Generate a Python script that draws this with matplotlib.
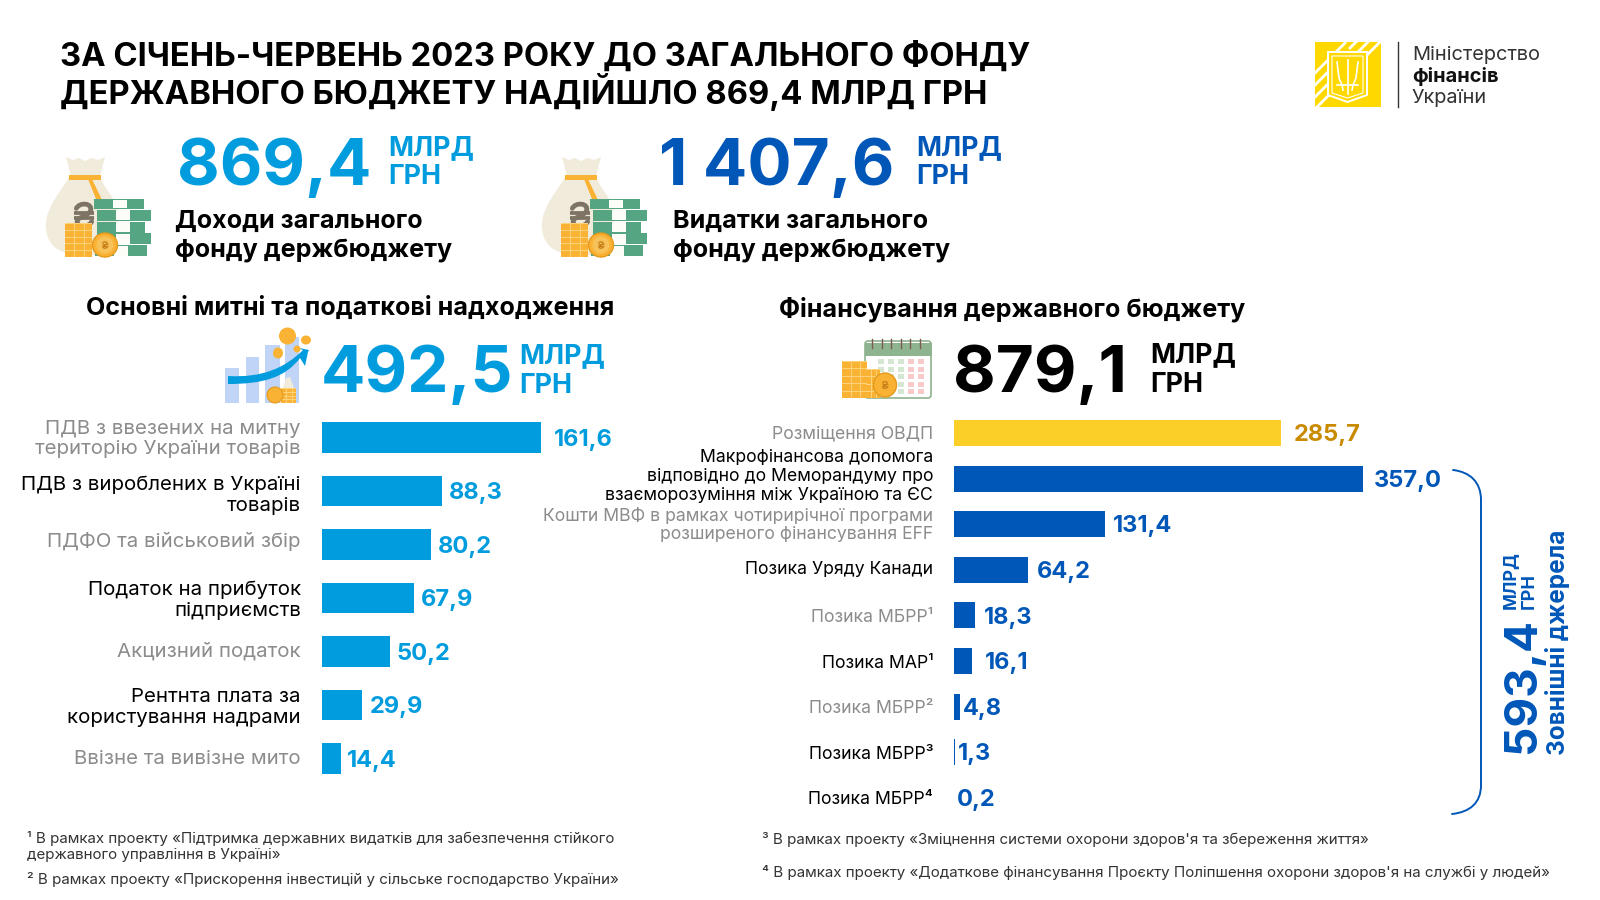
import matplotlib
matplotlib.use("Agg")
import matplotlib.pyplot as plt
from matplotlib.patches import Rectangle, Polygon, Ellipse, FancyBboxPatch, PathPatch
from matplotlib.path import Path
from matplotlib.transforms import ScaledTranslation

# ---------- data ----------
title_lines = ["ЗА СІЧЕНЬ-ЧЕРВЕНЬ 2023 РОКУ ДО ЗАГАЛЬНОГО ФОНДУ",
               "ДЕРЖАВНОГО БЮДЖЕТУ НАДІЙШЛО 869,4 МЛРД ГРН"]
tax_labels = ["ПДВ з ввезених на митну\nтериторію України товарів",
              "ПДВ з вироблених в Україні\nтоварів",
              "ПДФО та військовий збір",
              "Податок на прибуток\nпідприємств",
              "Акцизний податок",
              "Рентнта плата за\nкористування надрами",
              "Ввізне та вивізне мито"]
tax_values = [161.6, 88.3, 80.2, 67.9, 50.2, 29.9, 14.4]
fin_labels = ["Розміщення ОВДП",
              "Макрофінансова допомога\nвідповідно до Меморандуму про\nвзаєморозуміння між Україною та ЄС",
              "Кошти МВФ в рамках чотирирічної програми\nрозширеного фінансування EFF",
              "Позика Уряду Канади",
              "Позика МБРР¹", "Позика МАР¹", "Позика МБРР²", "Позика МБРР³", "Позика МБРР⁴"]
fin_values = [285.7, 357.0, 131.4, 64.2, 18.3, 16.1, 4.8, 1.3, 0.2]
income_total = "869,4"
spend_total = "1 407,6"
tax_total = "492,5"
fin_total = "879,1"
external_total = "593,4"

# ---------- style ----------
LBLUE = "#009CDE"
DBLUE = "#0057B8"
YELLOW = "#FBCE28"
AMBER = "#C98A00"
GREY = "#8C8C8C"
BLACK = "#000000"
plt.rcParams["font.family"] = ["Inter", "Noto Sans", "DejaVu Sans"]

# fine placement of labels, in pixels (positive = up / further from bar)
tax_label_nudge = [2, -1, 5, 1, 2, 1, 2]
fin_label_nudge = [1, 5, 1.5, 2, 0, -1, 0, 0, 0]
tax_value_gap = [13, 7.5, 7, 7, 7, 7.5, 5.5]
fin_value_gap = [12.5, 10.5, 8.5, 9, 9, 12, 3.4, 2.5, 2.5]

fig = plt.figure(figsize=(16, 9), dpi=100, facecolor="white")
bg = fig.add_axes([0, 0, 1, 1])
bg.set_xlim(0, 1600)
bg.set_ylim(900, 0)
bg.axis("off")


def T(x, y, s, size, color=BLACK, weight="normal", ha="left", va="baseline", rot=0):
    return bg.text(x, y, s, fontsize=size, color=color, fontweight=weight, ha=ha, va=va,
                   rotation=rot, rotation_mode="anchor")


def R(x, y, w, h, c, z=2):
    p = Rectangle((x, y), w, h, fc=c, ec="none", zorder=z)
    bg.add_patch(p)
    return p


def P(pts, c, z=2):
    p = Polygon(pts, closed=True, fc=c, ec="none", zorder=z)
    bg.add_patch(p)
    return p


def C(x, y, rx, ry, c, z=3, ec="none", lw=0):
    p = Ellipse((x, y), 2 * rx, 2 * ry, fc=c, ec=ec, lw=lw, zorder=z)
    bg.add_patch(p)
    return p


def curve(verts, codes, fc="none", ec="none", lw=0, z=2):
    p = PathPatch(Path(verts, codes), fc=fc, ec=ec, lw=lw, zorder=z, capstyle="round")
    bg.add_patch(p)
    return p


M, C4, L = Path.MOVETO, Path.CURVE4, Path.LINETO


def hryvnia(x, y, s, c, lw, z=6):
    curve([(x - .7 * s, y - .6 * s), (x - .4 * s, y - 1.2 * s), (x + .8 * s, y - 1.1 * s), (x + .6 * s, y - .4 * s),
           (x + .4 * s, y + .1 * s), (x - .4 * s, y + .1 * s), (x - .6 * s, y + .5 * s),
           (x - .8 * s, y + 1.1 * s), (x + .4 * s, y + 1.2 * s), (x + .7 * s, y + .6 * s)],
          [M, C4, C4, C4, C4, C4, C4, C4, C4, C4], ec=c, lw=lw, z=z)
    for dy in (-.2 * s, .3 * s):
        bg.plot([x - .9 * s, x + .9 * s], [y + dy, y + dy], color=c, lw=lw * .8, zorder=z, solid_capstyle="butt")


def coin_stack(x, y, w, h, rows=5):
    R(x, y, w, h, "#F9B233", 4)
    for i in range(rows):
        R(x, y + i * h / rows, w, 1, "#FDD27A", 5)
    for k in (.35, .7):
        R(x + k * w, y, 1, h, "#FDD27A", 5)


def money_icon(x0, y0):
    # sack body
    curve([(x0 + 25, y0 + 18),
           (x0 + 10, y0 + 40), (x0 - 2, y0 + 55), (x0, y0 + 72),
           (x0 + 2, y0 + 90), (x0 + 14, y0 + 96), (x0 + 30, y0 + 98),
           (x0 + 72, y0 + 98), (x0 + 72, y0 + 50),
           (x0 + 66, y0 + 38), (x0 + 56, y0 + 28), (x0 + 54, y0 + 18),
           (x0 + 25, y0 + 18)],
          [M, C4, C4, C4, C4, C4, C4, L, L, C4, C4, C4, L], fc="#F1EBDC", z=2)
    # sack neck
    P([(x0 + 20, y0), (x0 + 27, y0 + 3), (x0 + 33, y0 + 1), (x0 + 39, y0 + 4), (x0 + 46, y0 + 1), (x0 + 52, y0 + 3),
       (x0 + 59, y0), (x0 + 54, y0 + 19), (x0 + 25, y0 + 19)], "#F1EBDC", 2)
    # rope
    P([(x0 + 42, y0 + 22), (x0 + 46, y0 + 22), (x0 + 58, y0 + 47), (x0 + 52, y0 + 47)], "#F9B233", 2)
    R(x0 + 23, y0 + 18, 32, 5, "#F9B233", 3)
    hryvnia(x0 + 38, y0 + 58, 11, "#7D7465", 3.4, 3)
    # banknote stacks
    rows = [(2, 50, 10), (5, 54, 11), (5, 48, 11), (5, 54, 11), (3, 52, 11)]
    yy = y0 + 42
    for dx, w, h in rows:
        R(x0 + 46 + dx, yy, w, h, "#55A583", 4)
        R(x0 + 65 + dx, yy + .6, 14, h - 1.2, "#FDFDF8", 5)
        yy += h + .8
    # coins
    coin_stack(x0 + 19, y0 + 66, 27, 34)
    C(x0 + 59, y0 + 88, 12.5, 12, "#F9B233", 6, "#E59A1C", 1)
    C(x0 + 59, y0 + 88, 8.5, 8.5, "#F7C25A", 7)
    hryvnia(x0 + 59, y0 + 88, 3.2, "#C9811A", 1, 8)


money_icon(46, 157)
money_icon(542, 157)

# chart icon
for bx, by, bw in ((225, 368, 14), (246, 357, 13), (265, 345, 15), (285, 337, 14)):
    R(bx, by, bw, 403 - by, "#BFD4F7", 2)
curve([(228, 376), (262, 378), (285, 368), (303, 350), (294, 347), (309, 350), (308, 352), (305, 366), (300, 358),
       (285, 378), (262, 384), (228, 384), (228, 376)],
      [M, C4, C4, C4, L, L, L, L, L, C4, C4, C4, L], fc=LBLUE, z=4)
for cx, cy, rr, ry in ((287.5, 336, 8.5, 8.5), (306, 340, 5, 4.5), (278, 353, 5, 5.5), (297, 349, 3.5, 3.5)):
    C(cx, cy, rr, ry, "#F9B233", 5)
coin_stack(281, 388, 15, 15, 4)
C(275, 395, 8, 8, "#F9B233", 6, "#E59A1C", .8)
P([(283, 388), (286, 378), (290, 377), (294, 388)], "#F1EBDC", 3)

# calendar icon
cal = FancyBboxPatch((865, 341), 66, 57, boxstyle="round,pad=0,rounding_size=3", fc="white", ec="#8DB48F", lw=1.2, zorder=2)
bg.add_patch(cal)
R(865, 343, 67, 13, "#8DB48F", 3)
for i in range(6):
    bg.plot([872 + i * 9.6] * 2, [339, 348], color="#7D5A50", lw=1, zorder=4)
for row in range(5):
    for col in range(5):
        col_c = "#F8C9C9" if col >= 3 else "#D5E7D3"
        R(878 + col * 10, 359 + row * 7.5, 6, 5, col_c, 3)
coin_stack(842, 361, 25, 37, 5)
coin_stack(866, 369, 14, 29, 4)
C(885, 385, 11.5, 12, "#F9B233", 6, "#E59A1C", 1)
hryvnia(885, 385, 3.4, "#C9811A", 1, 7)

# logo
logo = R(1315, 42, 66, 65, "#FFD800", 2)
for off in (-12, 0, 12, 24):
    ln, = bg.plot([1300, 1345], [100 + off, 55 + off], color="white", lw=2, zorder=3)
    ln.set_clip_path(logo)
    ln2, = bg.plot([1350, 1400], [60 + off - 12, 10 + off - 12], color="white", lw=2, zorder=3)
    ln2.set_clip_path(logo)
P([(1328, 52), (1367, 52), (1367, 95), (1347.5, 102), (1328, 95)], "#FFD800", 4).set(ec="white", lw=1.4)
P([(1332, 56), (1363, 56), (1363, 93), (1347.5, 98), (1332, 93)], "#FFD800", 4).set(ec="white", lw=.8)
for xs, ys in (([1337, 1339, 1342, 1343], [62, 78, 85, 90]), ([1358, 1356, 1353, 1352], [62, 78, 85, 90]),
               ([1347.5, 1347.5], [60, 94]), ([1337, 1358], [85, 85])):
    bg.plot(xs, ys, color="white", lw=1.2, zorder=5)
bg.plot([1398, 1398], [42, 107], color="#333333", lw=1, zorder=2)
T(1412, 60, "Міністерство", 14.4, "#333333")
T(1412, 82, "фінансів", 14.4, "#111111", "bold")
T(1412, 103, "України", 14.4, "#333333")

# ---------- heading texts ----------
T(60, 66, title_lines[0], 23.6, BLACK, "bold")
T(60, 104, title_lines[1], 23.6, BLACK, "bold")

T(177, 185, income_total, 47.3, LBLUE, "bold")
T(388, 155, "МЛРД", 19.3, LBLUE, "bold")
T(388, 184, "ГРН", 19.3, LBLUE, "bold")
T(175, 228, "Доходи загального", 18.1, BLACK, "bold")
T(175, 256, "фонду держбюджету", 18.1, BLACK, "bold")

T(659, 185, spend_total, 47.3, DBLUE, "bold")
T(916, 155, "МЛРД", 19.3, DBLUE, "bold")
T(916, 184, "ГРН", 19.3, DBLUE, "bold")
T(673, 228, "Видатки загального", 18.1, BLACK, "bold")
T(673, 256, "фонду держбюджету", 18.1, BLACK, "bold")

T(86, 315, "Основні митні та податкові надходження", 18.1, BLACK, "bold")
T(779, 316, "Фінансування державного бюджету", 18.1, BLACK, "bold")

T(321, 392, tax_total, 47.3, LBLUE, "bold")
T(519, 363, "МЛРД", 19.3, LBLUE, "bold")
T(519, 393, "ГРН", 19.3, LBLUE, "bold")
T(953, 392, fin_total, 47.3, BLACK, "bold")
T(1150, 362, "МЛРД", 19.3, BLACK, "bold")
T(1150, 392, "ГРН", 19.3, BLACK, "bold")


# ---------- bar charts ----------
def panel(x_px, scale, top_px, step_px, vmax, labels, values, colors, val_colors, label_colors, lab_size, val_size,
          linespacing, nudges, gaps):
    n = len(values)
    w_px = vmax * scale
    h_px = n * step_px
    ax = fig.add_axes([x_px / 1600, 1 - (top_px + h_px) / 900, w_px / 1600, h_px / 900])
    ax.patch.set_alpha(0)
    ys = list(range(n))
    ax.barh(ys, values, height=0.57, color=colors, linewidth=0)
    ax.set_xlim(0, vmax)
    ax.set_ylim(n - 0.5, -0.5)
    ax.set_xticks([])
    ax.set_yticks(ys)
    ax.set_yticklabels(labels, fontsize=lab_size, linespacing=linespacing, ha="right", multialignment="right")
    ax.tick_params(axis="y", length=0, pad=15)
    fig.canvas.draw()
    for lbl, c, d in zip(ax.get_yticklabels(), label_colors, nudges):
        lbl.set_color(c)
        lbl.set_transform(lbl.get_transform() + ScaledTranslation(0, d / 100, fig.dpi_scale_trans))
    for s in ax.spines.values():
        s.set_visible(False)
    for y, v, c, g in zip(ys, values, val_colors, gaps):
        ax.annotate(f"{v:.1f}".replace(".", ","), (v, y), xytext=(g * 0.72, -1.6), textcoords="offset points",
                    fontsize=val_size, fontweight="bold", color=c, va="center", ha="left")
    return ax


tax_label_colors = [GREY if i % 2 == 0 else BLACK for i in range(len(tax_values))]
panel(321.6, 1.358, 410.75, 53.5, 220, tax_labels, tax_values, [LBLUE] * 7, [LBLUE] * 7, tax_label_colors,
      14.7, 17, 1.18, tax_label_nudge, tax_value_gap)

fin_label_colors = [GREY if i % 2 == 0 else BLACK for i in range(len(fin_values))]
fin_label_colors[-1] = BLACK
panel(954, 1.146, 410.2, 45.6, 450, fin_labels, fin_values, [YELLOW] + [DBLUE] * 8, [AMBER] + [DBLUE] * 8,
      fin_label_colors, 12.7, 17, 1.13, fin_label_nudge, fin_value_gap)

# bracket
curve([(1453, 470), (1470, 472), (1481, 482), (1481, 500), (1481, 785), (1481, 803), (1470, 812), (1452, 814)],
      [M, C4, C4, C4, L, C4, C4, C4], ec=DBLUE, lw=1.4, z=6)

# rotated external sources
T(1535, 753, external_total, 33, DBLUE, "bold", rot=90)
T(1515, 609, "МЛРД", 13, DBLUE, "bold", rot=90)
T(1534, 609, "ГРН", 13, DBLUE, "bold", rot=90)
T(1565, 755, "Зовнішні джерела", 17.5, DBLUE, "bold", rot=90)

# ---------- footnotes ----------
FN = "#333333"
T(27, 843, "¹ В рамках проекту «Підтримка державних видатків для забезпечення стійкого", 10.9, FN)
T(27, 859, "державного управління в Україні»", 10.9, FN)
T(27, 884, "² В рамках проекту «Прискорення інвестицій у сільське господарство України»", 10.9, FN)
T(762, 844, "³ В рамках проекту «Зміцнення системи охорони здоров'я та збереження життя»", 10.9, FN)
T(762, 877, "⁴ В рамках проекту «Додаткове фінансування Проєкту Поліпшення охорони здоров'я на службі у людей»", 10.9, FN)

fig.savefig("out.png", dpi=100)
